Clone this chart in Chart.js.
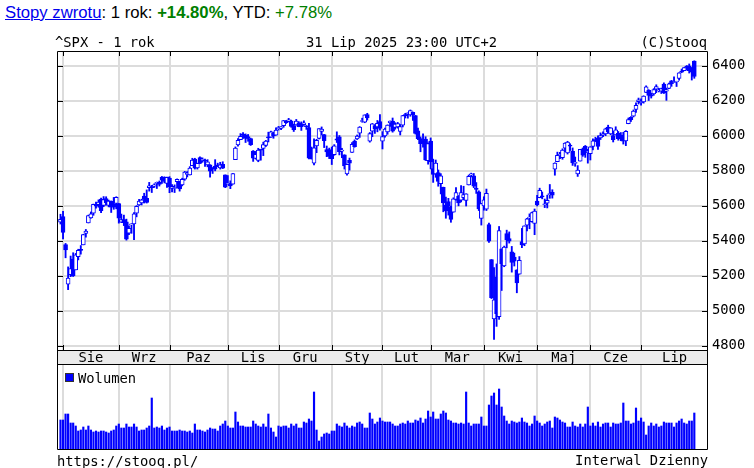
<!DOCTYPE html>
<html><head><meta charset="utf-8">
<script src="https://cdn.jsdelivr.net/npm/chart.js@4.4.1/dist/chart.umd.min.js"></script>
<style>
body{margin:0;width:754px;height:468px;background:#fff;position:relative;overflow:hidden;
  font-family:"DejaVu Sans Mono",monospace;font-size:13.8px;color:#000}
.t{position:absolute;white-space:pre;line-height:16px;z-index:2}
#top{left:5px;top:4px;font-family:"Liberation Sans",Arial,sans-serif;font-size:16.7px;line-height:18px}
#top a{color:#0000ee;text-decoration:underline}
.g{color:#008000}
canvas{position:absolute;left:0}
#leg{position:absolute;left:65px;top:373px;width:7px;height:7px;background:#0000ff;border:1px solid #333;z-index:2}
</style></head>
<body>
<canvas id="price" width="754" height="335" style="top:30px"></canvas>
<canvas id="vol" width="754" height="90" style="top:365px"></canvas>
<div class="t" id="top"><a>Stopy zwrotu</a>: 1 rok: <b class="g">+14.80%</b>, YTD: <span class="g">+7.78%</span></div>
<div class="t" style="left:55px;top:34px">^SPX - 1 rok</div>
<div class="t" style="left:306px;top:34px">31 Lip 2025 23:00 UTC+2</div>
<div class="t" style="right:47px;top:34px">(C)Stooq</div>
<div id="leg"></div>
<div class="t" style="left:78px;top:370px">Wolumen</div>
<div class="t" style="left:57px;top:453px">https://stooq.pl/</div>
<div class="t" style="right:46px;top:452px">Interwal Dzienny</div>
<script>
/* ^SPX dzienne, 31.07.2024 - 31.07.2025 */
const O=[5505,5537,5377,5151,5206,5294,5233,5308,5351,5376,
5442,5502,5530,5557,5603,5606,5637,5602,5640,5602,
5625,5608,5613,5612,5506,5520,5507,5443,5490,5496,
5557,5604,5615,5655,5642,5703,5709,5712,5727,5733,
5763,5756,5727,5758,5698,5698,5737,5737,5719,5751,
5779,5775,5829,5866,5816,5875,5859,5858,5833,5834,
5817,5826,5833,5816,5836,5776,5724,5725,5723,5863,
5947,5977,6009,6004,5995,5983,5912,5870,5858,5918,
5927,5945,5992,5992,6015,6003,6040,6042,6057,6084,
6082,6083,6058,6061,6074,6069,6063,6052,6047,5913,
5843,5941,5985,6025,6006,5921,5920,5903,5892,5982,
5994,5911,5890,5782,5859,5905,5969,5982,6015,6081,
6077,6121,5969,6026,6058,6050,6081,5969,5999,6021,
6073,6084,6047,6050,6025,6060,6116,6121,6118,6134,
6115,6027,5983,5971,5981,5857,5969,5812,5782,5789,
5726,5705,5604,5624,5595,5563,5636,5655,5632,5646,
5630,5718,5776,5771,5696,5679,5527,5598,5580,5492,
5292,4953,5193,4966,5353,5255,5441,5412,5336,5306,
5233,5208,5395,5381,5489,5529,5509,5499,5626,5646,
5655,5605,5614,5663,5676,5808,5852,5887,5875,5929,
5902,5944,5910,5842,5781,5855,5925,5939,5903,5897,
5938,5978,5985,5987,6004,6010,6049,6010,6000,6004,
6013,5987,6004,5970,6069,6105,6112,6150,6194,6187,
6193,6247,6259,6235,6238,6266,6256,6255,6295,6254,
6270,6314,6304,6307,6327,6369,6371,6397,6399,6378,
6427];
const H=[5551,5567,5384,5250,5312,5331,5327,5351,5372,5436,
5464,5546,5564,5609,5620,5633,5644,5652,5651,5632,
5627,5647,5651,5613,5552,5546,5523,5485,5497,5560,
5600,5636,5637,5671,5690,5733,5716,5725,5735,5741,
5767,5765,5763,5766,5720,5719,5753,5739,5757,5796,
5795,5823,5871,5871,5843,5879,5873,5866,5863,5834,
5817,5863,5843,5848,5851,5776,5772,5742,5784,5936,
5983,6012,6018,6010,6007,5986,5915,5910,5928,5920,
5963,5973,6020,6026,6021,6045,6053,6052,6087,6087,
6099,6089,6066,6093,6080,6079,6085,6058,6070,5935,
5982,5979,6040,6050,6007,5941,5929,5935,5949,6022,
6001,5928,5891,5837,5872,5960,5976,6004,6052,6100,
6119,6128,6018,6070,6063,6087,6121,6023,6043,6062,
6084,6101,6074,6076,6064,6116,6128,6130,6147,6135,
6116,6043,5993,6010,5994,5959,5987,5866,5861,5804,
5783,5706,5649,5642,5597,5645,5703,5658,5715,5711,
5668,5775,5786,5784,5732,5685,5613,5651,5695,5500,
5292,5246,5267,5481,5353,5369,5460,5450,5367,5329,
5233,5309,5470,5485,5528,5553,5563,5581,5659,5700,
5678,5638,5660,5721,5691,5845,5906,5905,5925,5959,
5968,5954,5930,5878,5829,5922,5930,5944,5922,5937,
5982,5991,5999,6016,6022,6043,6060,6046,6026,6051,
6024,6018,6019,6029,6101,6109,6147,6188,6215,6211,
6228,6285,6263,6243,6269,6291,6271,6272,6302,6272,
6300,6316,6336,6310,6360,6381,6390,6401,6410,6390,
6428];
const L=[5495,5410,5302,5120,5194,5195,5233,5290,5323,5376,
5420,5501,5528,5545,5586,5591,5560,5594,5603,5593,
5561,5579,5582,5500,5503,5486,5403,5434,5442,5406,
5536,5601,5604,5615,5615,5683,5675,5704,5698,5712,
5727,5730,5704,5674,5679,5675,5702,5683,5713,5745,
5764,5775,5829,5809,5809,5840,5848,5824,5822,5763,
5784,5799,5823,5809,5812,5703,5724,5697,5723,5863,
5940,5977,5984,5961,5968,5944,5853,5866,5851,5860,
5886,5938,5964,5990,5985,6003,6032,6034,6048,6070,
6079,6048,6024,6060,6051,6030,6059,6036,5867,5866,
5833,5903,5981,6004,5932,5880,5869,5835,5888,5961,
5890,5874,5809,5774,5803,5905,5934,5978,5990,6077,
6074,6089,5963,5994,6013,6022,6031,5924,5991,6008,
6053,6020,6037,6043,6004,6050,6101,6100,6111,6087,
6009,5977,5908,5935,5858,5837,5810,5733,5762,5711,
5667,5565,5528,5546,5505,5563,5631,5599,5622,5633,
5598,5718,5764,5703,5670,5572,5489,5574,5572,5390,
5069,4835,4910,4950,5115,5251,5359,5386,5220,5255,
5102,5208,5360,5371,5456,5468,5506,5434,5598,5645,
5639,5589,5587,5642,5643,5774,5851,5868,5865,5909,
5895,5915,5830,5825,5767,5855,5882,5876,5843,5861,
5919,5966,5921,5978,5994,6000,6014,6005,5964,6004,
5974,5971,5952,5943,6068,6081,6107,6133,6181,6175,
6186,6246,6201,6215,6231,6246,6250,6241,6241,6202,
6268,6282,6304,6281,6317,6360,6371,6375,6358,6318,
6328];
const C=[5522,5447,5347,5186,5240,5200,5319,5344,5344,5434,
5455,5543,5554,5608,5597,5621,5571,5635,5617,5626,
5592,5592,5648,5529,5520,5503,5408,5471,5496,5554,
5596,5626,5633,5635,5618,5714,5703,5719,5733,5722,
5745,5738,5762,5709,5710,5700,5751,5696,5751,5792,
5780,5815,5860,5815,5842,5841,5865,5854,5851,5797,
5810,5808,5824,5833,5814,5705,5729,5713,5783,5929,
5973,5996,6001,5984,5985,5949,5871,5894,5917,5917,
5949,5969,5987,6022,5999,6032,6047,6050,6086,6075,
6090,6053,6035,6084,6051,6051,6074,6051,5872,5867,
5931,5974,6040,6038,5971,5907,5882,5869,5942,5975,
5909,5918,5827,5836,5843,5950,5937,5997,6049,6086,
6119,6101,6012,6068,6039,6071,6041,5995,6038,6061,
6084,6026,6066,6069,6052,6115,6115,6130,6144,6118,
6013,5983,5955,5956,5862,5955,5850,5778,5843,5739,
5770,5615,5572,5599,5522,5639,5675,5615,5675,5663,
5668,5768,5777,5712,5693,5581,5612,5633,5671,5397,
5074,5062,4983,5457,5268,5363,5406,5397,5276,5283,
5158,5288,5376,5485,5525,5529,5561,5569,5604,5687,
5650,5607,5631,5664,5660,5844,5887,5893,5917,5958,
5964,5940,5845,5842,5803,5922,5889,5912,5912,5936,
5970,5971,5939,6000,6006,6039,6022,6045,5977,6033,
5983,5981,5968,6025,6092,6092,6141,6173,6205,6198,
6227,6279,6230,6226,6263,6280,6260,6269,6244,6264,
6297,6297,6306,6310,6359,6363,6389,6390,6371,6363,
6339];
const volume=[30,30,36,36,27,27,24,19,20,23,
20,24,20,18,19,18,19,19,18,17,
19,20,24,26,22,22,26,23,23,26,
23,19,20,20,22,24,52,22,23,22,
24,20,22,23,19,19,19,20,19,19,
18,19,17,26,20,20,19,18,20,22,
21,21,19,24,26,29,24,22,22,38,
28,24,24,23,23,23,29,26,24,23,
26,23,36,22,18,13,24,23,24,24,
22,26,24,26,22,22,28,27,31,29,
58,20,9,13,16,17,16,19,19,26,
24,23,27,24,22,24,23,27,28,26,
22,22,37,31,26,28,32,29,28,28,
28,26,24,24,26,27,26,29,27,27,
30,29,32,27,31,39,33,38,31,31,
36,39,37,30,29,27,27,26,27,26,
58,27,24,26,26,26,33,24,24,45,
54,57,45,61,43,34,29,26,29,28,
27,28,32,28,27,24,26,34,29,27,
24,26,28,29,22,33,32,30,28,27,
23,23,28,24,23,26,23,26,43,24,
27,24,28,23,26,27,27,23,27,26,
26,27,47,29,29,26,27,42,29,32,
28,15,24,27,24,26,23,24,28,27,
27,27,23,27,29,31,27,26,29,29,
37];
const monthNames=['Sie','Wrz','Paz','Lis','Gru','Sty','Lut','Mar','Kwi','Maj','Cze','Lip'];
const monthStart=[1,23,43,66,86,107,127,146,167,188,209,229]; // indeks 1. sesji miesiaca
const priceTicks=[4800,5000,5200,5400,5600,5800,6000,6200,6400];

const xMin=-1.38,xMax=255.4,BLUE='#0000ff',GRID='#dcdcdc';
Chart.defaults.font.family='"DejaVu Sans Mono", monospace';
Chart.defaults.font.size=13.8;
Chart.defaults.color='#000';
Chart.defaults.animation=false;

const idx=C.map((_,i)=>i);
const monthAxis=()=>({type:'linear',min:xMin,max:xMax,offset:false,
  afterBuildTicks:s=>{s.ticks=monthStart.map(v=>({value:v}));},
  ticks:{display:false},grid:{color:GRID,lineWidth:2,drawTicks:false,offset:false},border:{display:false},
  afterFit:s=>{s.height=0;}});
const noUI={legend:{display:false},tooltip:{enabled:false}};

const priceFrame={id:'priceFrame',
  beforeDraw(ch){const a=ch.chartArea,c=ch.ctx;
    c.save();c.fillStyle='#ebebeb';c.fillRect(a.left,a.bottom,a.right-a.left,15);c.restore();},
  afterDraw(ch){const a=ch.chartArea,c=ch.ctx,sx=ch.scales.x,sy=ch.scales.y;
    c.save();c.strokeStyle='#000';c.lineWidth=1;c.beginPath();
    c.rect(a.left+.5,a.top+.5,a.right-a.left-1,a.bottom-a.top);
    c.moveTo(a.left,a.bottom+14.5);c.lineTo(a.right,a.bottom+14.5);
    c.moveTo(a.left+.5,a.bottom);c.lineTo(a.left+.5,a.bottom+15);
    c.moveTo(a.right-.5,a.bottom);c.lineTo(a.right-.5,a.bottom+15);
    monthStart.forEach(v=>{const p=Math.round(sx.getPixelForValue(v))+.5;
      c.moveTo(p,a.top);c.lineTo(p,a.top+5);c.moveTo(p,a.bottom);c.lineTo(p,a.bottom-5);});
    priceTicks.forEach(v=>{const p=Math.round(sy.getPixelForValue(v))+.5;
      c.moveTo(a.left,p);c.lineTo(a.left+6,p);c.moveTo(a.right,p);c.lineTo(a.right-6,p);});
    c.stroke();c.restore();}};

new Chart(document.getElementById('price'),{
  type:'bar',
  data:{datasets:[
    {label:'body',order:0,grouped:false,barThickness:4,minBarLength:1,borderWidth:1,borderSkipped:false,
     borderColor:BLUE,backgroundColor:C.map((c,i)=>c>=O[i]?'#fff':BLUE),
     data:idx.map(i=>({x:i,y:[O[i],C[i]]}))},
    {label:'wick',order:1,grouped:false,barThickness:1.2,backgroundColor:BLUE,
     data:idx.map(i=>({x:i,y:[L[i],H[i]]}))}]},
  options:{responsive:false,layout:{padding:{left:57,top:21,right:0,bottom:0}},plugins:noUI,
    scales:{
      x:monthAxis(),
      xm:{type:'linear',position:'bottom',min:xMin,max:xMax,offset:false,
        afterBuildTicks:s=>{s.ticks=monthStart.map((v,k)=>({value:(v+(k<monthStart.length-1?monthStart[k+1]:xMax))/2}));},
        ticks:{autoSkip:false,maxRotation:0,padding:0,callback:(v,k)=>monthNames[k]},
        grid:{display:false,drawTicks:false},border:{display:false},
        afterFit:s=>{s.height=15;}},
      y:{position:'right',min:4775,max:6484,
        afterBuildTicks:s=>{s.ticks=priceTicks.map(v=>({value:v}));},
        ticks:{padding:4,callback:v=>String(v)},
        grid:{color:GRID,lineWidth:2,drawTicks:false},border:{display:false},
        afterFit:s=>{s.width=46;}}}},
  plugins:[priceFrame]});

const volFrame={id:'volFrame',
  afterDraw(ch){const a=ch.chartArea,c=ch.ctx;
    c.save();c.strokeStyle='#000';c.lineWidth=1;c.beginPath();
    c.moveTo(a.left+.5,a.top);c.lineTo(a.left+.5,a.bottom-.5);c.lineTo(a.right-.5,a.bottom-.5);c.lineTo(a.right-.5,a.top);
    c.stroke();c.restore();}};

new Chart(document.getElementById('vol'),{
  type:'bar',
  data:{datasets:[{label:'Wolumen',barThickness:1.5,backgroundColor:BLUE,
    data:idx.map(i=>({x:i,y:volume[i]}))}]},
  options:{responsive:false,layout:{padding:{left:57,top:0,right:46,bottom:5}},plugins:noUI,
    scales:{x:monthAxis(),y:{display:false,min:0,max:85}}},
  plugins:[volFrame]});
</script>
</body></html>
